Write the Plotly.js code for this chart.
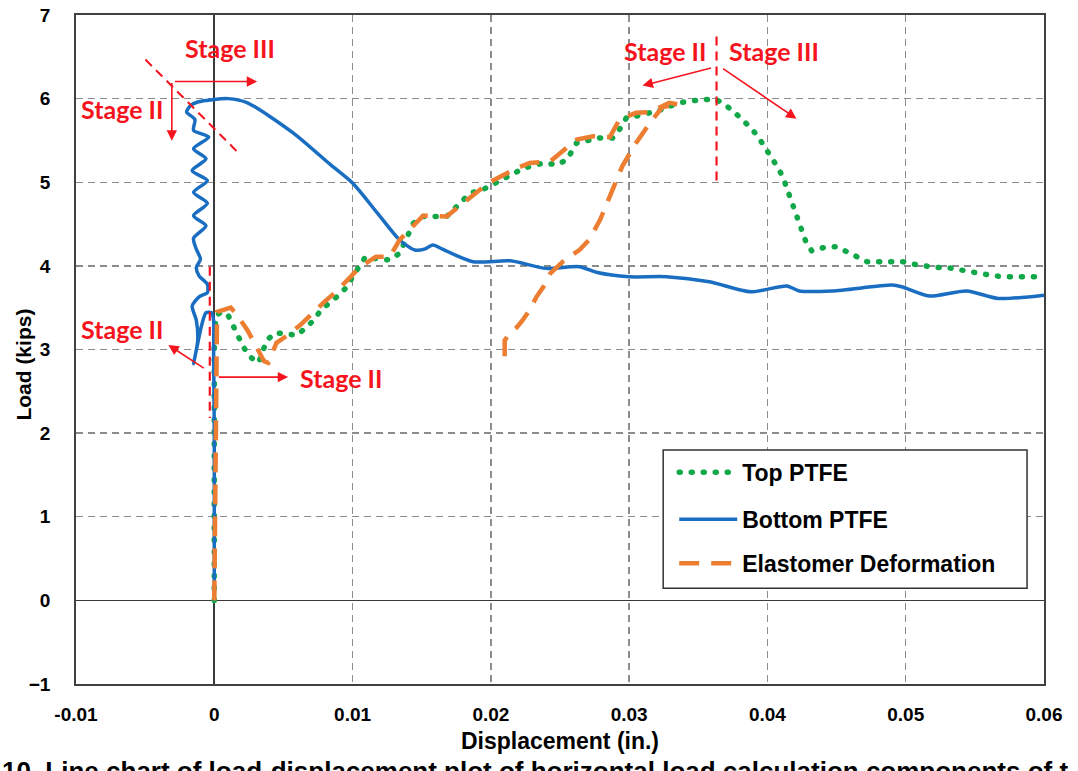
<!DOCTYPE html>
<html>
<head>
<meta charset="utf-8">
<script src="https://cdn.plot.ly/plotly-3.0.1.min.js"></script>
<style>
  html, body { margin: 0; padding: 0; background: #fff; }
  #chart { width: 1078px; height: 771px; }
</style>
</head>
<body>
<div id="chart"></div>
<script>
// Load (kips) versus displacement (in.) for the three bearing components

const seriesNames = ['Top PTFE', 'Bottom PTFE', 'Elastomer Deformation'];

// Top PTFE
const topX = [0, 0, 0, 0, 0.0001, 0.0005, 0.001, 0.0014, 0.0017, 0.0021, 0.0026, 0.0032, 0.0035, 0.0038, 0.0044,
  0.006, 0.0072, 0.0077, 0.009, 0.0096, 0.01, 0.0109, 0.0127, 0.0134, 0.0144, 0.0151, 0.0168, 0.0174, 0.0185,
  0.0194, 0.0208, 0.0215, 0.0224, 0.0238, 0.0248, 0.0255, 0.0262, 0.0279, 0.0288, 0.0293, 0.0298, 0.0305,
  0.0316, 0.0322, 0.0336, 0.0353, 0.0363, 0.0369, 0.0376, 0.0382, 0.0388, 0.0393, 0.0398, 0.0403, 0.0407,
  0.0411, 0.0414, 0.0417, 0.0419, 0.0422, 0.0425, 0.0428, 0.0432, 0.0441, 0.045, 0.0457, 0.0464, 0.0472,
  0.0481, 0.049, 0.0498, 0.0506, 0.0515, 0.0522, 0.053, 0.0539, 0.0547, 0.0555, 0.0564, 0.0573, 0.0586, 0.06];
const topY = [0, 1, 2, 3, 3.4, 3.45, 3.41, 3.29, 3.17, 3.03, 2.91, 2.84, 2.97, 3.11, 3.2,
  3.17, 3.35, 3.47, 3.65, 3.75, 3.87, 4.1, 4.07, 4.15, 4.51, 4.59, 4.59, 4.69, 4.87,
  4.91, 5.03, 5.09, 5.17, 5.23, 5.21, 5.27, 5.47, 5.53, 5.53, 5.63, 5.77, 5.79,
  5.83, 5.86, 5.95, 5.99, 5.99, 5.93, 5.84, 5.75, 5.65, 5.55, 5.43, 5.31, 5.19,
  5.07, 4.93, 4.81, 4.67, 4.55, 4.41, 4.28, 4.18, 4.22, 4.23, 4.17, 4.11, 4.05,
  4.05, 4.05, 4.05, 4.02, 3.99, 3.98, 3.98, 3.95, 3.93, 3.9, 3.88, 3.87, 3.87, 3.87];

// Bottom PTFE
const bottomX = [0, 0, 0, -0.00005, -0.00005, -0.0002, -0.0006, -0.0009, -0.0015,
  -0.0012, -0.0013, -0.0016, -0.0011, -0.0005, -0.0005, -0.0011, -0.0013, -0.001, -0.0013, -0.0015,
  -0.0006, -0.0015, -0.0005, -0.0015, -0.0005, -0.0016, -0.0006, -0.0015, -0.0004, -0.0015, -0.0014,
  -0.002, -0.0017, -0.0012, 0, 0.001, 0.0024, 0.0057, 0.0084, 0.01, 0.0118, 0.0134, 0.0145, 0.0152,
  0.0158, 0.0165, 0.0187, 0.0214, 0.024, 0.0264, 0.0277, 0.03, 0.0327, 0.0358, 0.0388, 0.0414, 0.0423,
  0.0447, 0.049, 0.0497, 0.0517, 0.0544, 0.0567, 0.06];
const bottomY = [0, 1, 2, 3, 3.35, 3.44, 3.44, 3.3, 2.83,
  3.1, 3.35, 3.52, 3.63, 3.68, 3.78, 3.88, 3.98, 4.08, 4.2, 4.33,
  4.48, 4.6, 4.75, 4.88, 5.02, 5.14, 5.28, 5.4, 5.54, 5.62, 5.75,
  5.84, 5.92, 5.96, 5.99, 6.0, 5.95, 5.59, 5.21, 4.99, 4.63, 4.31, 4.19, 4.2,
  4.25, 4.2, 4.05, 4.06, 3.97, 3.99, 3.92, 3.87, 3.87, 3.81, 3.69, 3.76, 3.7,
  3.7, 3.77, 3.75, 3.64, 3.7, 3.61, 3.65];

// Elastomer Deformation
const elastX = [0, 0.00005, 0.00005, 0.0001, 0.0002, 0.0012, 0.0017, 0.0024, 0.0033, 0.0036, 0.0039, 0.0045,
  0.0053, 0.0062, 0.0079, 0.0088, 0.0105, 0.0117, 0.0127, 0.0134, 0.0151, 0.0168, 0.018, 0.0199, 0.0219,
  0.0228, 0.0243, 0.0262, 0.0274, 0.0286, 0.0293, 0.0305, 0.0315, 0.0329, 0.0336,
  0.0324, 0.0315, 0.0305, 0.0295, 0.0288, 0.0279, 0.0271, 0.0264, 0.0257, 0.0252, 0.0243, 0.0238,
  0.0233, 0.0228, 0.0223, 0.0219, 0.0214, 0.021, 0.021];
const elastY = [0, 1, 2, 3, 3.45, 3.5, 3.4, 3.23, 2.96, 2.86, 2.84, 3.08,
  3.17, 3.29, 3.56, 3.69, 3.98, 4.11, 4.11, 4.31, 4.6, 4.59, 4.75, 5.0, 5.17,
  5.23, 5.25, 5.51, 5.55, 5.54, 5.75, 5.83, 5.84, 5.95, 5.93,
  5.9, 5.71, 5.47, 5.19, 4.91, 4.55, 4.31, 4.19, 4.11, 4.05, 3.91, 3.75,
  3.63, 3.47, 3.35, 3.27, 3.2, 3.11, 2.88];

const xTicks = [-0.01, 0, 0.01, 0.02, 0.03, 0.04, 0.05, 0.06];
const xTickText = ['-0.01', '0', '0.01', '0.02', '0.03', '0.04', '0.05', '0.06'];
const yTicks = [-1, 0, 1, 2, 3, 4, 5, 6, 7];

const RED = '#f5141e';
const AX_FONT = 'Liberation Sans, Arial, sans-serif';
const STAGE_FONT = 'Lato, Carlito, sans-serif';

const traces = [
  { x: topX, y: topY, name: seriesNames[0], mode: 'lines', legend: 'legend',
    line: { color: '#12a84a', width: 5.5, dash: '1px,11px' } },
  { x: bottomX, y: bottomY, name: seriesNames[1], mode: 'lines', legend: 'legend2',
    line: { color: '#1a6ec2', width: 3.5, shape: 'spline', smoothing: 0.7 } },
  { x: elastX, y: elastY, name: seriesNames[2], mode: 'lines', legend: 'legend3',
    line: { color: '#ed7d31', width: 4.5, dash: '20px,12px' } }
];

// Stage markers: text labels and arrows
function label(text, x, y) {
  return { text: text, x: x, y: y, xref: 'x', yref: 'y', showarrow: false,
    font: { family: STAGE_FONT, size: 25, color: RED, weight: 700 } };
}
function arrow(x0, y0, x1, y1) {
  return { text: '', x: x1, y: y1, ax: x0, ay: y0, xref: 'x', yref: 'y', axref: 'x', ayref: 'y',
    showarrow: true, arrowhead: 2, arrowsize: 1.3, arrowwidth: 1.6, arrowcolor: RED, standoff: 0, startstandoff: 0 };
}

const annotations = [
  label('<b>Stage III</b>', 0.00116, 6.61),
  label('<b>Stage II</b>', -0.00664, 5.88),
  label('<b>Stage II</b>', -0.00664, 3.245),
  label('<b>Stage II</b>', 0.00917, 2.66),
  label('<b>Stage II</b>', 0.03256, 6.575),
  label('<b>Stage III</b>', 0.0405, 6.575),
  arrow(-0.00296, 6.204, 0.0031, 6.204),
  arrow(-0.00307, 6.204, -0.00307, 5.497),
  arrow(-0.00065, 2.766, -0.00332, 3.054),
  arrow(0.00022, 2.67, 0.00534, 2.67),
  arrow(0.03603, 6.371, 0.03097, 6.156),
  arrow(0.03668, 6.371, 0.0421, 5.76),
  // y-axis title
  { text: '<b>Load (kips)</b>', xref: 'paper', yref: 'paper', x: -0.054, y: 0.477, textangle: -90,
    xanchor: 'center', yanchor: 'middle',
    showarrow: false, font: { family: AX_FONT, size: 21, color: '#000' } },
  // figure caption along the bottom edge
  { text: '<b>10. Line chart of load-displacement plot of horizontal load calculation components of t</b>',
    xref: 'paper', yref: 'paper', x: -0.079, y: -0.1048, xanchor: 'left', yanchor: 'top', showarrow: false,
    font: { family: AX_FONT, size: 26, color: '#000' } }
];

const shapes = [
  { type: 'line', xref: 'x', yref: 'y', x0: -0.00498, y0: 6.467, x1: 0.00166, y1: 5.365,
    line: { color: RED, width: 2, dash: '9px,6px' }, layer: 'above' },
  { type: 'line', xref: 'x', yref: 'y', x0: -0.000325, y0: 3.99, x1: -0.000325, y1: 2.18,
    line: { color: RED, width: 2.2, dash: '9px,6px' }, layer: 'above' },
  { type: 'line', xref: 'x', yref: 'y', x0: 0.03632, y0: 6.743, x1: 0.03632, y1: 4.994,
    line: { color: RED, width: 2.2, dash: '9px,6px' }, layer: 'above' },
  // legend frame
  { type: 'rect', xref: 'paper', yref: 'paper', x0: 0.6066, x1: 0.9825, y0: 0.143, y1: 0.3496,
    fillcolor: '#ffffff', line: { color: '#333333', width: 1.5 }, layer: 'above' }
];

function legendAt(y) {
  return { x: 0.618, y: y, xanchor: 'left', yanchor: 'middle', bgcolor: 'rgba(0,0,0,0)', borderwidth: 0,
    itemwidth: 58, font: { family: AX_FONT, size: 23, color: '#000', weight: 700 } };
}

const layout = {
  width: 1078, height: 771,
  margin: { l: 76, r: 34, t: 15, b: 87 },
  paper_bgcolor: '#ffffff', plot_bgcolor: '#ffffff',
  showlegend: true,
  legend: legendAt(0.3166),
  legend2: legendAt(0.2463),
  legend3: legendAt(0.1804),
  xaxis: {
    range: [-0.01, 0.06], tickvals: xTicks, ticktext: xTickText,
    showgrid: true, gridcolor: '#8c8c8c', gridwidth: 1.4, griddash: '7px,5px',
    zeroline: true, zerolinecolor: '#3a3a3a', zerolinewidth: 1.6,
    showline: true, mirror: true, linecolor: '#404040', linewidth: 1.8,
    ticks: 'outside', ticklen: 12, tickcolor: 'rgba(0,0,0,0)',
    tickfont: { family: AX_FONT, size: 19, color: '#000', weight: 700 },
    title: { text: '<b>Displacement (in.)</b>', standoff: 9,
      font: { family: AX_FONT, size: 23, color: '#000' } }
  },
  yaxis: {
    range: [-1, 7], tickvals: yTicks,
    showgrid: true, gridcolor: '#8c8c8c', gridwidth: 1.4, griddash: '7px,5px',
    zeroline: true, zerolinecolor: '#3a3a3a', zerolinewidth: 1.6,
    showline: true, mirror: true, linecolor: '#404040', linewidth: 1.8,
    ticks: 'outside', ticklen: 20, tickcolor: 'rgba(0,0,0,0)',
    tickfont: { family: AX_FONT, size: 19, color: '#000', weight: 700 }
  },
  annotations: annotations,
  shapes: shapes
};

Plotly.newPlot('chart', traces, layout, { staticPlot: true, displayModeBar: false }).then(function (gd) {
  // round caps turn the short dashes of the Top PTFE line into dots
  gd.querySelectorAll('path').forEach(function (p) {
    const d = p.style.strokeDasharray || '';
    if (d.replace(/\s/g, '').indexOf('1px,11px') === 0) p.style.strokeLinecap = 'round';
  });
});
</script>
</body>
</html>
